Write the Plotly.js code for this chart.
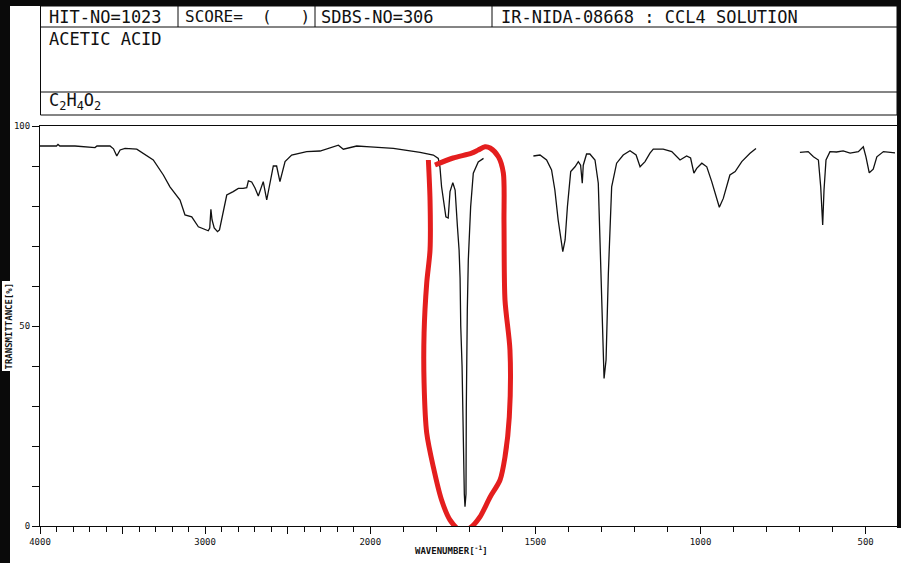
<!DOCTYPE html>
<html>
<head>
<meta charset="utf-8">
<script src="https://cdn.plot.ly/plotly-3.0.1.min.js"></script>
<style>
  html, body { margin: 0; padding: 0; background: #ffffff; }
  #chart { width: 901px; height: 563px; }
</style>
</head>
<body>
<div id="chart"></div>
<script>
// ---------- data (wavenumber in cm-1, transmittance in %) ----------
// null entries mark the gaps where the solvent (CCl4) blanks the spectrum
const wavenumber = [
  4000, 3900, 3891, 3880, 3788, 3697, 3667, 3655, 3576, 3555, 3535, 3515, 3485, 3414, 3374,
  3314, 3253, 3213, 3152, 3122, 3081, 3041, 2981, 2972, 2965, 2958, 2945, 2925, 2913, 2869,
  2830, 2799, 2770, 2748, 2738, 2718, 2698, 2678, 2648, 2627, 2587, 2567, 2547, 2516, 2476,
  2385, 2304, 2224, 2193, 2163, 2082, 2000, 1930, 1849, 1809, 1794, 1789, 1784, 1771, 1764,
  1758.5, 1750, 1743, 1736, 1731, 1728, 1726, 1722, 1720, 1717.6, 1715.2, 1713.1, 1710.1,
  1709.2, 1708, 1706.1, 1703.1, 1696, 1688, 1673, 1657,
  null,
  1506, 1486, 1466, 1451, 1441, 1431, 1417, 1410, 1403, 1393, 1380, 1370, 1363, 1358, 1355,
  1345, 1335, 1319.5, 1309.5, 1302, 1296, 1292, 1286, 1279, 1269, 1254, 1234, 1213.5, 1195,
  1183, 1168, 1153, 1143, 1113, 1087, 1062, 1042, 1030, 1020, 1011.5, 996, 981, 966, 951,
  943, 931, 911, 895, 875, 850, 832,
  null,
  699, 674, 658, 643, 636, 630, 626, 620, 608, 588, 568, 547, 522, 507, 499, 489, 477, 466,
  446, 411
];
const transmittance = [
  95.0, 95.0, 95.4, 95.0, 95.0, 94.6, 94.6, 95.0, 95.0, 94.3, 92.5, 94.0, 94.4, 94.2, 93.2,
  91.5, 87.75, 84.8, 81.5, 77.75, 77.3, 74.8, 73.8, 74.5, 79.2, 76.5, 74.5, 73.6, 74.0, 82.75,
  83.6, 84.4, 84.4, 84.6, 86.3, 86.0, 84.5, 82.5, 86.1, 81.5, 90.0, 90.0, 86.1, 91.1, 92.75,
  93.6, 93.75, 94.7, 95.2, 94.2, 95.0, 94.8, 94.4, 93.4, 92.75, 91.9, 89.8, 84.8, 77.3, 77.0,
  83.6, 85.8, 84.0, 74.8, 69.0, 62.0, 50.0, 40.0, 29.0, 15.0, 8.0, 4.8, 8.0,
  29.0, 45.0, 54.0, 66.5, 79.8, 88.2, 91.0, 91.9,
  null,
  92.5, 92.75, 91.5, 89.0, 84.0, 76.5, 68.6, 71.5, 79.8, 88.6, 89.8, 91.1, 90.2, 85.7, 90.2,
  93.0, 93.0, 91.5, 85.7, 64.8, 42.3, 36.9, 41.5, 63.2, 84.8, 90.7, 92.75, 93.8, 92.75,
  89.8, 91.1, 93.2, 94.2, 94.2, 93.6, 91.5, 92.5, 92.0, 88.2, 89.4, 90.7, 89.8, 86.1, 81.5,
  79.7, 81.9, 87.75, 88.6, 91.1, 93.2, 94.4,
  null,
  93.4, 93.6, 92.3, 91.5, 84.8, 75.25, 84.0, 91.5, 93.6, 93.5, 93.8, 93.2, 93.6, 94.8, 92.3,
  88.3, 89.2, 92.3, 93.6, 93.3
];

// hand-drawn red highlight loop around the C=O band
const loopWavenumber = [1804, 1749, 1693, 1673, 1652.5, 1637, 1612, 1597, 1595, 1592, 1577,
  1579, 1592, 1607, 1637, 1668, 1698, 1728, 1758.5, 1784, 1809, 1829, 1837, 1837, 1829, 1819,
  1819, 1824];
const loopTransmittance = [90.25, 92.0, 93.2, 94.0, 94.8, 94.5, 92.3, 88.25, 75.75, 56.5, 44.0,
  27.25, 17.25, 11.5, 7.25, 2.25, -0.5, -1.0, 1.5, 6.5, 14.75, 23.25, 35.75, 48.25, 60.75, 69.0,
  81.5, 91.5];

// axis ticks
const majorTickWavenumbers = [4000, 3500, 3000, 2500, 2000, 1500, 1000, 500];
const majorTickLabels = ["4000", " ", "3000", " ", "2000", "1500", "1000", "500"];
const yTickValues = [0, 10, 20, 30, 40, 50, 60, 70, 80, 90, 100];
const yTickLabels = ["0", " ", " ", " ", " ", "50", " ", " ", " ", " ", "100"];

// header texts
const hitText = "HIT-NO=1023";
const scoreText = "SCORE=  (   )";
const sdbsText = "SDBS-NO=306";
const irText = "IR-NIDA-08668 : CCL4 SOLUTION";
const nameText = "ACETIC ACID";
const formulaText = "C<sub>2</sub>H<sub>4</sub>O<sub>2</sub>";
const xTitle = "WAVENUMBER[<sup>-1</sup>]";
const yTitle = "TRANSMITTANCE[%]";

// ---------- scale: two-scale IR axis (4000-2000 compressed x2) ----------
function toPos(w) {
  if (w === null) return null;
  return w >= 2000 ? 4000 - w : 2000 + (2000 - w) * 2;
}
const minorTickWavenumbers = [];
for (let w = 3900; w >= 500; w -= 100) {
  if (majorTickWavenumbers.indexOf(w) < 0) minorTickWavenumbers.push(w);
}

// ---------- page-pixel helpers for decoration ----------
const L = 40, R = 897, T = 126, B = 526;
const PX = x => (x - L) / (R - L);
const PY = y => (B - y) / (B - T);

const black = '#0a0a0a';
const mono = 'DejaVu Sans Mono, Liberation Mono, monospace';

function rect(x0, y0, x1, y1, fill, lw) {
  return { type: 'rect', xref: 'paper', yref: 'paper', x0: PX(x0), x1: PX(x1), y0: PY(y0), y1: PY(y1),
    fillcolor: fill || 'rgba(0,0,0,0)', line: { color: black, width: lw === undefined ? 1 : lw }, layer: 'above' };
}
function seg(x0, y0, x1, y1) {
  return { type: 'line', xref: 'paper', yref: 'paper', x0: PX(x0), x1: PX(x1), y0: PY(y0), y1: PY(y1),
    line: { color: black, width: 1 }, layer: 'above' };
}
function label(text, x, y, size, extra) {
  return Object.assign({ text: text, xref: 'paper', yref: 'paper', x: PX(x), y: PY(y),
    xanchor: 'left', yanchor: 'middle', showarrow: false,
    font: { family: mono, size: size, color: '#111' } }, extra || {});
}

const shapes = [
  // black window edges
  rect(0, 0, 901, 6, black, 0),
  rect(0, 0, 10, 563, black, 0),
  rect(897, 0, 901, 528, black, 0),
  // header table
  rect(40.5, 6, 897, 115),
  seg(40.5, 27, 897, 27),
  seg(40.5, 92, 897, 92),
  seg(178, 6, 178, 27),
  seg(315, 6, 315, 27),
  seg(492, 6, 492, 27)
];

const annotations = [
  label(hitText, 47, 16.5, 17),
  label(scoreText, 183, 16.5, 16),
  label(sdbsText, 319, 16.5, 17),
  label(irText, 499, 16.5, 17),
  label(nameText, 47, 38.5, 17),
  label(formulaText, 47, 102, 17),
  label(xTitle, 413, 550, 9, { font: { family: mono, size: 9, color: '#111', weight: 'bold' } }),
  label(yTitle, 8.5, 326, 9, { xanchor: 'center', textangle: -90, bgcolor: '#ffffff',
    font: { family: mono, size: 9, color: '#111', weight: 'bold' } })
];

const traces = [
  {
    type: 'scatter', mode: 'lines',
    x: wavenumber.map(toPos), y: transmittance,
    connectgaps: false,
    line: { color: '#111111', width: 1.3 },
    hoverinfo: 'skip'
  },
  {
    type: 'scatter', mode: 'lines',
    x: loopWavenumber.map(toPos), y: loopTransmittance,
    line: { color: '#e41e1e', width: 5, shape: 'spline', smoothing: 0.8 },
    cliponaxis: false,
    hoverinfo: 'skip'
  }
];

const layout = {
  width: 901, height: 563,
  margin: { l: L, r: 901 - R, t: T, b: 563 - B, pad: 0 },
  paper_bgcolor: '#ffffff', plot_bgcolor: '#ffffff',
  showlegend: false,
  font: { family: mono, size: 9, color: '#111' },
  xaxis: {
    range: [0, toPos(400) - 10],
    tickmode: 'array',
    tickvals: majorTickWavenumbers.map(toPos),
    ticktext: majorTickLabels,
    ticks: 'outside', ticklen: 7, tickwidth: 1, tickcolor: black,
    minor: { tickmode: 'array', tickvals: minorTickWavenumbers.map(toPos), ticks: 'outside',
      ticklen: 5, tickwidth: 1, tickcolor: black, showgrid: false },
    showline: true, linecolor: black, linewidth: 1, mirror: true,
    showgrid: false, zeroline: false, layer: 'below traces',
    tickfont: { family: mono, size: 9, color: '#111' },
    fixedrange: true
  },
  yaxis: {
    range: [0, 100],
    tickmode: 'array',
    tickvals: yTickValues,
    ticktext: yTickLabels,
    ticks: 'outside', ticklen: 7, tickwidth: 1, tickcolor: black,
    showline: true, linecolor: black, linewidth: 1, mirror: true,
    showgrid: false, zeroline: false, layer: 'below traces',
    tickfont: { family: mono, size: 9, color: '#111' },
    fixedrange: true
  },
  shapes: shapes,
  annotations: annotations
};

Plotly.newPlot('chart', traces, layout, { displayModeBar: false, staticPlot: true });
</script>
</body>
</html>
